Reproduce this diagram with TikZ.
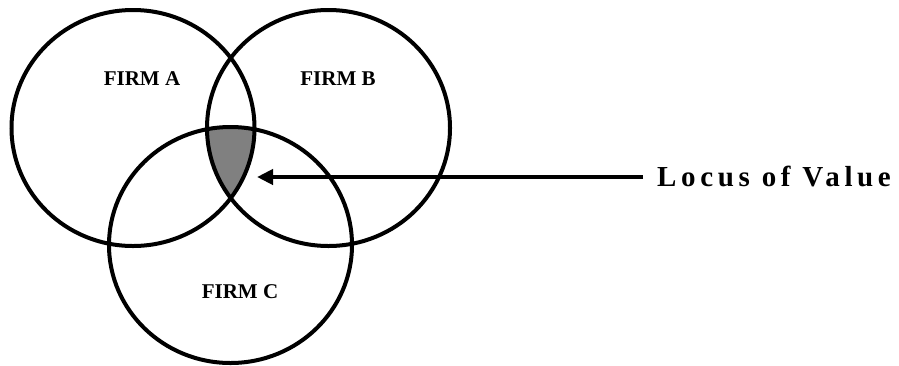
\documentclass[tikz,border=0pt]{standalone}
\usepackage{fontspec}
\setmainfont{Liberation Serif}
\newfontfamily\locusfont[LetterSpace=16]{Liberation Serif Bold}
\usetikzlibrary{arrows.meta,positioning,shapes.geometric}

\begin{document}
\begin{tikzpicture}[
        x=1pt,
        y=-1pt,
        firm/.style={draw, ellipse, line width=4pt, minimum width=243pt, minimum height=236pt, inner sep=0pt},
        firmlabel/.style={font=\fontsize{21}{21}\selectfont\bfseries, inner sep=0pt},
        pointer/.style={line width=4pt, -{Triangle[length=16pt,width=15pt]}}
    ]
        \useasboundingbox (0,0) rectangle (899,365);
        \foreach \name/\cx/\cy in {A/133/128,B/328.5/128,C/230.5/245}{
            \coordinate (c\name) at (\cx,\cy);
        }
        % shaded area common to all three firms
        \begin{scope}
            \clip (cA) ellipse [x radius=121.5, y radius=118];
            \clip (cB) ellipse [x radius=121.5, y radius=118];
            \fill[gray] (cC) ellipse [x radius=121.5, y radius=118];
        \end{scope}
        \node[firm] (firmA) at (cA) {};
        \node[firm] (firmB) at (cB) {};
        \node[firm] (firmC) at (cC) {};
        \node[firmlabel] (labA) at (142,79) {FIRM A};
        \node[firmlabel] (labB) at (338,79) {FIRM B};
        \node[firmlabel] (labC) at (240,292) {FIRM C};
        \node[font=\locusfont\fontsize{29}{29}\selectfont, anchor=west, inner sep=0pt] (locus) at (657,177) {Locus of Value};
        \coordinate (tip) at (257,177);
        \draw[pointer] ([xshift=-14pt]locus.west) -- (tip);
    \end{tikzpicture}
\end{document}
